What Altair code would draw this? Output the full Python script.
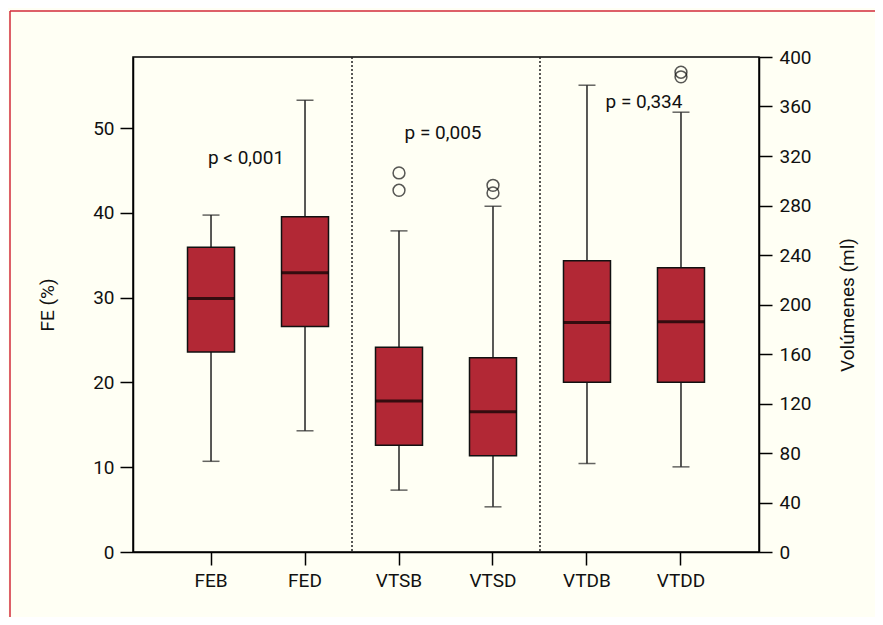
import altair as alt
import pandas as pd

# ---- data ----
categories = ["FEB", "FED", "VTSB", "VTSD", "VTDB", "VTDD"]

fe_cats = ["FEB", "FED"]
fe_low = [10.7, 14.3]
fe_q1 = [23.6, 26.6]
fe_median = [29.9, 32.95]
fe_q3 = [35.95, 39.55]
fe_high = [39.75, 53.3]

vol_cats = ["VTSB", "VTSD", "VTDB", "VTDD"]
vol_low = [50.0, 36.5, 71.5, 68.8]
vol_q1 = [86.3, 77.8, 137.2, 137.2]
vol_median = [122.1, 113.4, 185.4, 186.0]
vol_q3 = [165.5, 157.0, 235.3, 229.7]
vol_high = [259.5, 279.4, 377.2, 355.4]

outlier_cats = ["VTSB", "VTSB", "VTSD", "VTSD", "VTDD", "VTDD"]
outlier_vals = [306.3, 292.3, 296.3, 290.2, 387.7, 384.0]

p_texts = ["p < 0,001", "p = 0,005", "p = 0,334"]
p_anchor = ["FED", "VTSD", "VTDD"]
p_y = [46.5, 49.4, 53.1]

separator_cats = ["VTSB", "VTDB"]

fe_ticks = [0, 10, 20, 30, 40, 50]
vol_ticks = [0, 40, 80, 120, 160, 200, 240, 280, 320, 360, 400]

# ---- style ----
FONT = "Roboto"
BOX = "#B22835"
BG = "#FFFFF4"
RED = "#D22B3A"
W, H = 626, 495
PAD = {"left": 125, "top": 49, "right": 116, "bottom": 65}
BOXW = 47
FS = 19

fe_df = pd.DataFrame({"cat": fe_cats, "lo": fe_low, "q1": fe_q1,
                      "med": fe_median, "q3": fe_q3, "hi": fe_high})
vol_df = pd.DataFrame({"cat": vol_cats, "lo": vol_low, "q1": vol_q1,
                       "med": vol_median, "q3": vol_q3, "hi": vol_high})
out_df = pd.DataFrame({"cat": outlier_cats, "v": outlier_vals})
sep_df = pd.DataFrame({"cat": separator_cats})
frame_df = pd.DataFrame({"a": [0]})

xscale = alt.Scale(domain=categories, paddingInner=0, paddingOuter=0.33)
xaxis = alt.Axis(labelAngle=0, tickSize=13, labelPadding=6, labelFontSize=FS,
                 domainColor="black", tickColor="black", domainWidth=1.5,
                 tickWidth=1.5, labelColor="#111", grid=False)
X = alt.X("cat:N", scale=xscale, axis=xaxis, title=None)
Xb = alt.X("cat:N", scale=xscale, axis=xaxis, title=None, bandPosition=0)

fe_scale = alt.Scale(domain=[0, 58.4], nice=False, zero=True)
vol_scale = alt.Scale(domain=[0, 400], nice=False, zero=True)

fe_axis = alt.Axis(orient="left", values=fe_ticks, tickSize=13, labelPadding=6,
                   labelFontSize=FS, title="FE (%)", titleFontSize=FS,
                   titleFontWeight="normal", titlePadding=35, grid=False,
                   domainColor="black", tickColor="black", domainWidth=1.5,
                   tickWidth=1.5, labelColor="#111", titleColor="#111")
vol_axis = alt.Axis(orient="right", values=vol_ticks, tickSize=13, labelPadding=7,
                    labelFontSize=FS, title="Volúmenes (ml)", titleFontSize=FS,
                    titleFontWeight="normal", titleAngle=270, titleBaseline="top",
                    titlePadding=27, grid=False, domainColor="black",
                    tickColor="black", domainWidth=1.5, tickWidth=1.5,
                    labelColor="#111", titleColor="#111")


def box_layers(df, scale, axis):
    base = alt.Chart(df)
    whisk = base.mark_rule(color="#222", strokeWidth=1.5).encode(
        x=X, y=alt.Y("lo:Q", scale=scale, axis=axis), y2="hi:Q")
    caps_lo = base.mark_tick(color="#222", size=17, thickness=1.5).encode(
        x=X, y=alt.Y("lo:Q", scale=scale, axis=axis))
    caps_hi = base.mark_tick(color="#222", size=17, thickness=1.5).encode(
        x=X, y=alt.Y("hi:Q", scale=scale, axis=axis))
    box = base.mark_bar(size=BOXW, fill=BOX, stroke="#111", strokeWidth=1.5).encode(
        x=X, y=alt.Y("q1:Q", scale=scale, axis=axis), y2="q3:Q")
    med = base.mark_tick(color="black", size=BOXW, thickness=3).encode(
        x=X, y=alt.Y("med:Q", scale=scale, axis=axis))
    return [whisk, caps_lo, caps_hi, box, med]


# decorative red figure frame (top and left edges; the others lie off-page)
frame_top = alt.Chart(frame_df).mark_rule(color=RED, strokeWidth=1.5).encode(
    x=alt.value(-123), x2=alt.value(W + PAD["right"]), y=alt.value(-46))
frame_left = alt.Chart(frame_df).mark_rule(color=RED, strokeWidth=1.5).encode(
    x=alt.value(-123), y=alt.value(-46), y2=alt.value(H + PAD["bottom"]))

seps = alt.Chart(sep_df).mark_rule(color="#222", strokeWidth=1.5, strokeDash=[2, 2]).encode(
    x=Xb, y=alt.value(0), y2=alt.value(H))

text_layers = []
dxs = [-12, -3, 10]
for t, c, yv, d in zip(p_texts, p_anchor, p_y, dxs):
    tdf = pd.DataFrame({"cat": [c], "y": [yv], "t": [t]})
    text_layers.append(
        alt.Chart(tdf).mark_text(fontSize=FS, font=FONT, color="#111", dx=d,
                                 baseline="middle", align="center").encode(
            x=Xb, y=alt.Y("y:Q", scale=fe_scale, axis=fe_axis), text="t:N"))

fe_layer = alt.layer(frame_top, frame_left, seps,
                     *box_layers(fe_df, fe_scale, fe_axis), *text_layers)

outliers = alt.Chart(out_df).mark_point(shape="circle", filled=False, size=140,
                                        color="#111", strokeWidth=1.5).encode(
    x=X, y=alt.Y("v:Q", scale=vol_scale, axis=vol_axis))
vol_layer = alt.layer(*box_layers(vol_df, vol_scale, vol_axis), outliers)

chart = alt.layer(fe_layer, vol_layer).resolve_scale(y="independent").properties(
    width=W, height=H,
    autosize=alt.AutoSizeParams(type="none"),
    padding=PAD,
    background=BG,
).configure_view(stroke="black", strokeWidth=1.5).configure_axis(
    labelFont=FONT, titleFont=FONT
).configure_text(font=FONT)

chart.save("out.html", embed_options={"renderer": "svg", "actions": False})
